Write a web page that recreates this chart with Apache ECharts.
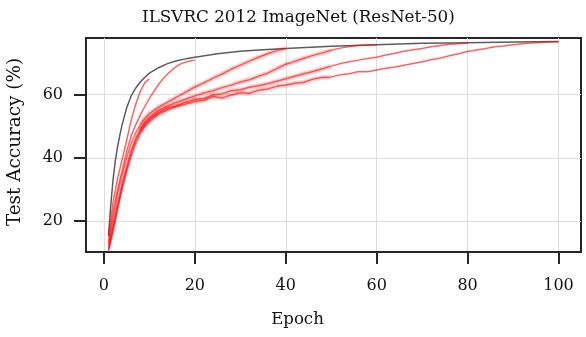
<!DOCTYPE html>
<html><head><meta charset="utf-8">
<script src="https://cdn.jsdelivr.net/npm/echarts@6/dist/echarts.min.js"></script>
<style>html,body{margin:0;padding:0;background:#fff}#c{width:586px;height:337px}</style>
</head><body><div id="c"></div>
<script>
const TITLE = 'ILSVRC 2012 ImageNet (ResNet-50)';
const X_NAME = 'Epoch';
const Y_NAME = 'Test Accuracy (%)';
const X_TICKS = [0, 20, 40, 60, 80, 100];
const Y_TICKS = [20, 40, 60];

const EPOCHS_DENSE = [1,2,3,4,5,6,7,8,9,10,11,12,13,14,15,16,17,18,19,20];
const EPOCHS = [1,2,3,4,5,6,7,8,9,10,12,14,16,18,20,22,24,26,28,30,32,34,36,38,40,42,44,46,48,50,
  52,54,56,58,60,62,64,66,68,70,72,74,76,78,80,82,84,86,88,90,92,94,96,98,100];

const GRAY_EPOCHS = [1,1.5,2,2.5,3,3.5,4,5,6,7,8,9,10,12,14,16,18,20,25,30,35,40,50,60,70,80,90,100];
const GRAY_ACC = [15.5,25,33,39,43.5,47.2,50.5,55.8,59.6,62.1,64,65.5,66.8,68.5,69.8,70.7,71.3,71.8,72.9,73.7,74.2,74.6,75.3,75.8,76.2,76.4,76.6,76.8];

const ACC_B10 = [15,26,33.5,39.5,45.5,52,57,61,63.8,65];
const ACC_B20 = [13.5,23,30,36,42,47,50.5,53.5,56.3,58.8,61,63.2,65,66.5,67.8,69,69.8,70.3,70.6,70.9];
const ACC_B40 = [12.5,20.5,28.5,34.5,40,44.5,48,50.5,52.5,54,56,57.6,59.2,60.8,62.4,63.7,65.2,66.5,68,69.3,70.6,71.8,72.9,73.9,74.6];
const ACC_B60 = [11.5,18.5,25.5,32,37.5,42.5,46.3,49.2,51.3,52.8,55,56.4,57.6,58.6,59.6,60.5,61.2,62.2,63,64,
  64.7,65.8,66.8,68.2,69.6,70.5,71.5,72.4,73.2,74,74.7,75.2,75.5,75.7,75.8];
const ACC_B80 = [11,17.5,24.5,31,36.5,41.5,45.5,48.5,50.6,52.2,54.3,55.8,56.5,57.6,58.5,58.8,59.9,60.3,61.2,61.5,
  62.3,62.8,63.4,64.2,65,65.8,66.6,67.3,68.2,69,69.8,70.4,70.9,71.4,71.8,72.5,73.1,73.7,74.2,74.6,
  75.1,75.5,75.9,76.1,76.3];
const ACC_B100 = [10.5,16.5,23.5,30,35.5,40.5,44.5,47.8,50,51.6,53.8,55.2,56.3,57,57.8,58.2,59.4,58.9,59.9,60.6,
  60.4,61.4,61.8,62.6,63,63.6,63.9,64.9,65.4,65.6,66.3,66.6,67.3,67.2,67.8,68.3,68.7,69.3,69.8,70.4,
  71,71.6,72.3,72.9,73.6,74.1,74.6,75.1,75.4,75.8,76.1,76.3,76.5,76.6,76.7];

function pairs(xs, ys) { return ys.map((y, i) => [xs[i], y]); }

const RED = 'rgba(255,0,0,0.62)';
const BAND = 'rgba(255,0,0,0.17)';
const FONT = 'DejaVu Serif';

const series = [];
series.push({ type: 'line', data: pairs(GRAY_EPOCHS, GRAY_ACC), smooth: false,
  showSymbol: false, lineStyle: { color: '#5c5c5c', width: 1.5 }, z: 2 });
const reds = [
  [EPOCHS_DENSE, ACC_B10, false], [EPOCHS_DENSE, ACC_B20, false], [EPOCHS, ACC_B40, true],
  [EPOCHS, ACC_B60, true], [EPOCHS, ACC_B80, true], [EPOCHS, ACC_B100, true]
];
reds.forEach(([xs, ys, band]) => {
  if (band) {
    series.push({ type: 'line', data: pairs(xs, ys).filter(p => p[0] >= 8 && p[0] <= 50), showSymbol: false,
      lineStyle: { color: BAND, width: 5 }, z: 3, silent: true });
  }
  series.push({ type: 'line', data: pairs(xs, ys), showSymbol: false,
    lineStyle: { color: RED, width: 1.5 }, z: 4 });
});

const chart = echarts.init(document.getElementById('c'), null, { renderer: 'canvas' });
chart.setOption({
  animation: false,
  backgroundColor: '#fff',
  title: { text: TITLE, left: 137, top: 4, padding: 5,
    textStyle: { fontFamily: FONT, fontSize: 16.8, fontWeight: 'normal', color: '#111' } },
  grid: { left: 86, right: 5, top: 38, bottom: 85, show: true, borderColor: '#262626', borderWidth: 2,
    containLabel: false, outerBoundsMode: 'none' },
  xAxis: {
    type: 'value', min: -3.95, max: 104.95,
    name: X_NAME, nameLocation: 'middle', nameGap: 59,
    nameTextStyle: { fontFamily: FONT, fontSize: 16.6, color: '#111', padding: [0, 72, 0, 0] },
    axisLine: { show: true, onZero: false, lineStyle: { color: '#262626', width: 2 } },
    axisTick: { show: true, customValues: X_TICKS, length: 12, lineStyle: { color: '#262626', width: 2 } },
    axisLabel: { customValues: X_TICKS, margin: 26, fontFamily: FONT, fontSize: 16, color: '#111' },
    splitLine: { show: true, lineStyle: { color: '#dcdcdc', width: 1 } }
  },
  yAxis: {
    type: 'value', min: 10.2, max: 77.9,
    name: Y_NAME, nameLocation: 'middle', nameGap: 62,
    nameTextStyle: { fontFamily: FONT, fontSize: 18.4, color: '#111', padding: [0, 0, 0, 6] },
    axisLine: { show: true, onZero: false, lineStyle: { color: '#262626', width: 2 } },
    axisTick: { show: true, customValues: Y_TICKS, length: 12, lineStyle: { color: '#262626', width: 2 } },
    axisLabel: { customValues: Y_TICKS, margin: 23, fontFamily: FONT, fontSize: 16, color: '#111' },
    splitLine: { show: true, lineStyle: { color: '#dcdcdc', width: 1 } }
  },
  series: series
});
</script>
</body></html>
